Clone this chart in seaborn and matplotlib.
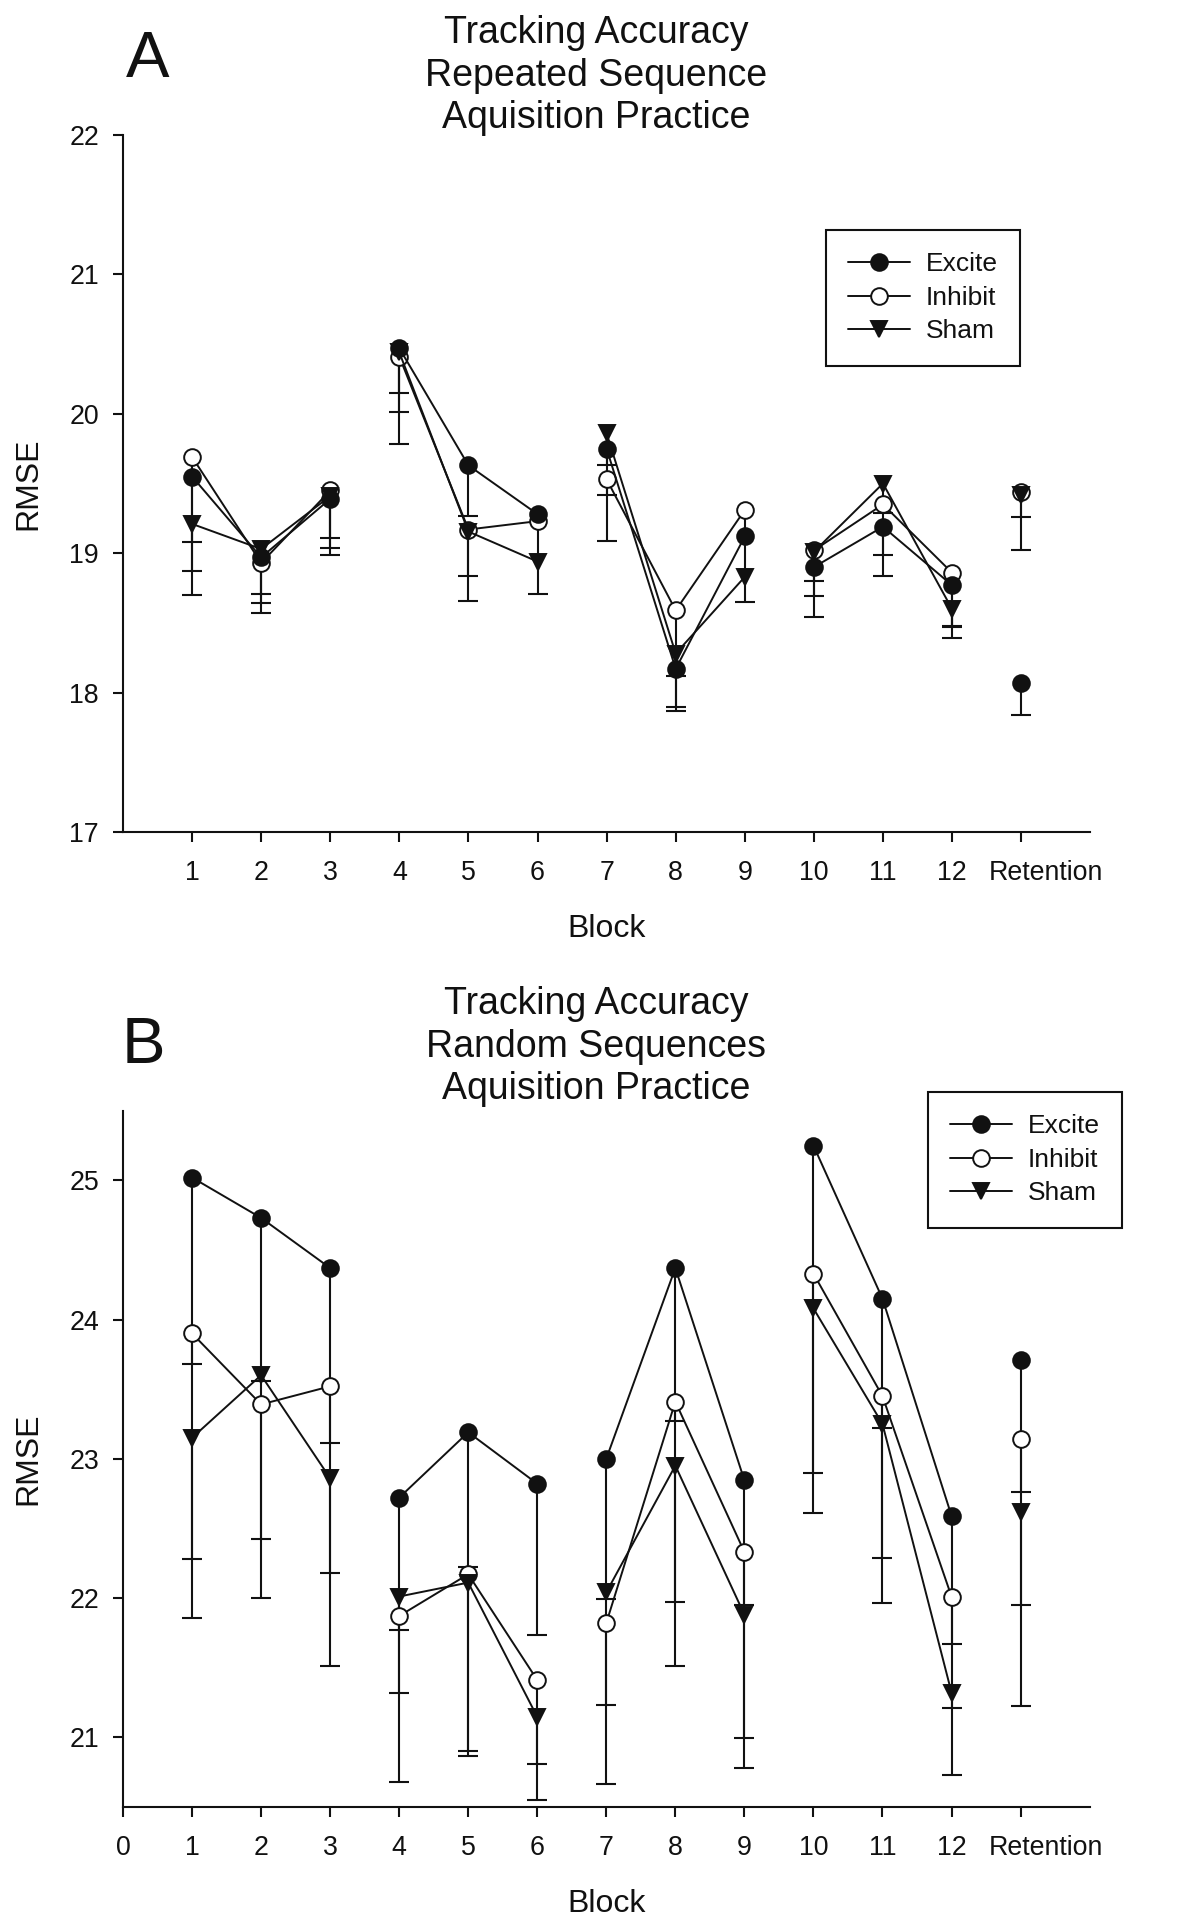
import numpy as np
import pandas as pd
import seaborn as sns
import matplotlib.pyplot as plt
import matplotlib.transforms as mtransforms

blocks = list(range(1, 13))
sessions = [1, 1, 1, 2, 2, 2, 3, 3, 3, 4, 4, 4]  # blocks are joined within a session only
tick_labels = [str(b) for b in blocks] + ['Retention']
groups = ['Excite', 'Inhibit', 'Sham']

# A: repeated sequence, RMSE per block (12 blocks + retention)
rep_excite = [19.55, 18.97, 19.39, 20.47, 19.63, 19.28, 19.75, 18.17, 19.12, 18.90, 19.19, 18.77, 18.07]
rep_inhibit = [19.69, 18.93, 19.45, 20.41, 19.17, 19.23, 19.53, 18.59, 19.31, 19.02, 19.35, 18.86, 19.44]
rep_sham = [19.21, 19.03, 19.41, 20.44, 19.155, 18.94, 19.86, 18.28, 18.83, 19.01, 19.50, 18.60, 19.42]
# lower end of each (one sided) error bar, nan = not visible
rep_excite_low = [18.87, 18.64, 18.99, 20.15, 19.27, 18.71, 19.42, 17.87, np.nan, 18.54, 18.84, 18.47, 17.84]
rep_inhibit_low = [19.08, 18.57, 19.11, 19.78, 18.84, np.nan, 19.09, 18.12, 18.65, 18.80, 18.99, 18.48, 19.26]
rep_sham_low = [18.70, 18.71, 19.04, 20.01, 18.66, np.nan, 19.63, 17.90, np.nan, 18.69, 19.29, 18.39, 19.02]

# B: random sequences
rnd_excite = [25.02, 24.73, 24.37, 22.72, 23.19, 22.82, 23.00, 24.37, 22.845, 25.25, 24.15, 22.59, 23.71]
rnd_inhibit = [23.90, 23.39, 23.52, 21.87, 22.17, 21.41, 21.82, 23.41, 22.33, 24.33, 23.45, 22.01, 23.14]
rnd_sham = [23.15, 23.60, 22.86, 22.01, 22.11, 21.145, 22.04, 22.95, 21.88, 24.08, 23.25, 21.32, 22.62]
rnd_excite_low = [23.68, 23.56, 23.11, 21.77, 22.22, 21.73, 21.99, 23.27, 21.95, 22.90, 23.22, 21.67, 22.76]
rnd_inhibit_low = [22.28, 22.00, 22.18, 20.68, 20.90, 20.81, 20.66, 21.97, 20.99, 22.61, 22.29, 21.21, 21.95]
rnd_sham_low = [21.855, 22.42, 21.51, 21.32, 20.865, 20.55, 21.23, 21.51, 20.78, np.nan, 21.96, 20.73, 21.22]

ink = '#111111'
sns.set_style('ticks')
plt.rcParams['font.family'] = ['Liberation Sans', 'DejaVu Sans']
plt.rcParams['text.color'] = ink
plt.rcParams['axes.labelcolor'] = ink

styles = {'Excite': ('o', ink), 'Inhibit': ('o', 'white'), 'Sham': ('v', ink)}


def draw_panel(ax, means, lows, ylim, yticks, xticks, xlabels):
    handles = {}
    for g in ['Inhibit', 'Sham', 'Excite']:
        m = np.array(means[g], dtype=float)
        lo = np.array(lows[g], dtype=float)
        ok = ~np.isnan(lo)
        xs = np.arange(1, 14)[ok]
        eb = ax.errorbar(xs, m[ok], yerr=[m[ok] - lo[ok], np.zeros(ok.sum())], fmt='none',
                         ecolor=ink, elinewidth=1.5, capsize=7.2, capthick=1.5, zorder=1)
        for cap in eb[1]:
            if np.allclose(cap.get_ydata(), m[ok]):
                cap.set_visible(False)
        marker, face = styles[g]
        kw = dict(color=ink, marker=marker, markersize=12, markerfacecolor=face,
                  markeredgecolor=ink, markeredgewidth=1.4, linewidth=1.4, zorder=2)
        df = pd.DataFrame({'block': blocks, 'rmse': m[:12], 'session': sessions})
        sns.lineplot(data=df, x='block', y='rmse', units='session', estimator=None,
                     ax=ax, legend=False, **kw)
        handles[g] = ax.lines[-1]
        sns.lineplot(x=[13], y=[m[12]], ax=ax, legend=False, **kw)
    ax.set_xlim(0, 14)
    ax.set_ylim(*ylim)
    ax.set_yticks(yticks)
    ax.set_xticks(xticks)
    ax.set_xticklabels(xlabels)
    sns.despine(ax=ax)
    for s in ['left', 'bottom']:
        ax.spines[s].set_linewidth(1.5)
        ax.spines[s].set_color(ink)
    ax.tick_params(axis='both', direction='out', length=7.2, width=1.5, color=ink,
                   labelsize=19.3, labelcolor=ink)
    ax.tick_params(axis='y', pad=10)
    ax.tick_params(axis='x', pad=13)
    # 'Retention' sits a bit right of its tick
    lab = ax.get_xticklabels()[-1]
    lab.set_transform(lab.get_transform() +
                      mtransforms.ScaledTranslation(0.25, 0, ax.figure.dpi_scale_trans))
    ax.set_xlabel('Block', fontsize=23)
    ax.set_ylabel('RMSE', fontsize=23)
    ax.xaxis.set_label_coords(0.5, -0.118)
    ax.yaxis.set_label_coords(-0.082, 0.5)
    return [handles[g] for g in groups]


fig = plt.figure(figsize=(12, 19.29), dpi=100)
axA = fig.add_axes([0.1025, 0.5687, 0.806, 0.3613])
axB = fig.add_axes([0.1025, 0.0634, 0.8055, 0.3608])

hA = draw_panel(axA,
                {'Excite': rep_excite, 'Inhibit': rep_inhibit, 'Sham': rep_sham},
                {'Excite': rep_excite_low, 'Inhibit': rep_inhibit_low, 'Sham': rep_sham_low},
                (17, 22), range(17, 23), range(1, 14), tick_labels)
hB = draw_panel(axB,
                {'Excite': rnd_excite, 'Inhibit': rnd_inhibit, 'Sham': rnd_sham},
                {'Excite': rnd_excite_low, 'Inhibit': rnd_inhibit_low, 'Sham': rnd_sham_low},
                (20.5, 25.5), range(21, 26), range(0, 14), ['0'] + tick_labels)

leg_kw = dict(loc='upper left', borderaxespad=0, fontsize=19, handlelength=2.35,
              handletextpad=0.57, borderpad=0.85, labelspacing=0.36, fancybox=False,
              framealpha=1, edgecolor=ink, numpoints=1)
for ax, h, anchor in [(axA, hA, (826 / 1200, 1 - 230 / 1929)),
                      (axB, hB, (928 / 1200, 1 - 1092 / 1929))]:
    leg = ax.legend(h, groups, bbox_to_anchor=anchor, bbox_transform=fig.transFigure, **leg_kw)
    leg.get_frame().set_linewidth(1.5)

fig.text(596 / 1200, 0.9922, 'Tracking Accuracy\nRepeated Sequence\nAquisition Practice',
         ha='center', va='top', fontsize=27, linespacing=1.24)
fig.text(596 / 1200, 0.4889, 'Tracking Accuracy\nRandom Sequences\nAquisition Practice',
         ha='center', va='top', fontsize=27, linespacing=1.24)
fig.text(148 / 1200, 0.960, 'A', ha='center', va='baseline', fontsize=47)
fig.text(143 / 1200, 0.4488, 'B', ha='center', va='baseline', fontsize=47)

fig.savefig('out.png', dpi=100, facecolor='white')
